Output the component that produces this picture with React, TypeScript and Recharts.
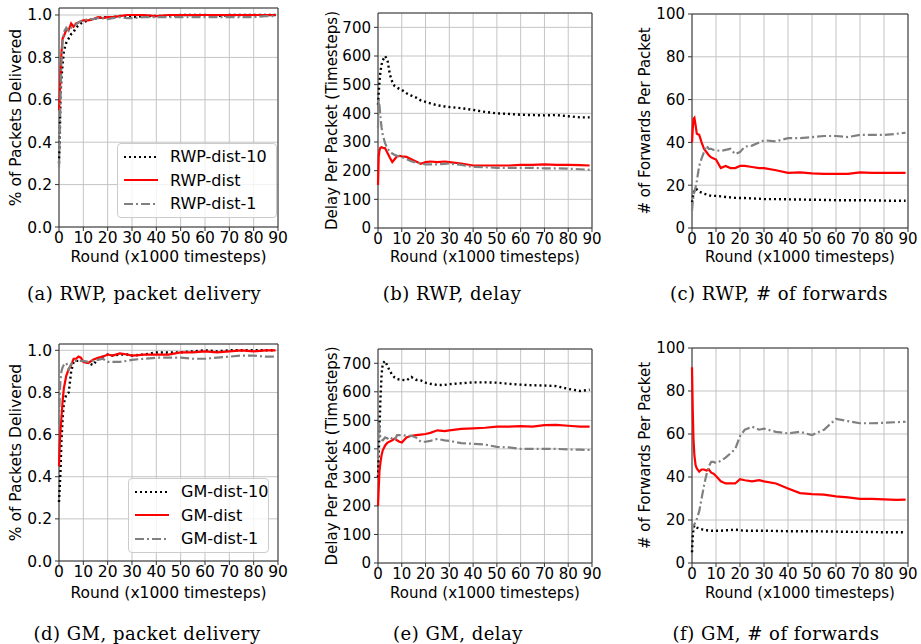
import { LineChart, Line, XAxis, YAxis, CartesianGrid, ReferenceArea, Legend } from "recharts"

// shared x positions (x1000 timesteps)
const rounds = [0, 0.3, 0.6, 1, 1.5, 2, 3, 4, 5, 6, 7, 8, 9, 10, 12, 14, 16, 18, 20, 22, 25, 28, 30, 35, 40, 45, 50, 55, 60, 65, 70, 75, 80, 85, 89]
const xTicks = [0, 10, 20, 30, 40, 50, 60, 70, 80, 90]
const ratioTicks = [0, 0.2, 0.4, 0.6, 0.8, 1.0]
const delayTicks = [0, 100, 200, 300, 400, 500, 600, 700]
const forwardTicks = [0, 20, 40, 60, 80, 100]

// RWP, packet delivery
const rwpDelivery10 = [0.30, 0.40, 0.62, 0.70, 0.77, 0.83, 0.87, 0.89, 0.91, 0.92, 0.94, 0.95, 0.96, 0.965, 0.975, 0.98, 0.985, 0.99, 0.99, 0.99, 0.995, 0.995, 0.99, 0.995, 0.995, 0.995, 1.0, 1.0, 1.0, 0.995, 1.0, 1.0, 1.0, 1.0, 1.0]
const rwpDelivery = [0.55, 0.62, 0.72, 0.82, 0.89, 0.9, 0.93, 0.93, 0.96, 0.945, 0.96, 0.965, 0.97, 0.975, 0.975, 0.98, 0.99, 0.985, 0.99, 0.99, 0.995, 1.0, 1.0, 1.0, 0.995, 1.0, 1.0, 1.0, 1.0, 1.0, 1.0, 1.0, 1.0, 1.0, 1.0]
const rwpDelivery1 = [0.28, 0.45, 0.6, 0.78, 0.88, 0.92, 0.94, 0.925, 0.94, 0.95, 0.955, 0.965, 0.97, 0.975, 0.98, 0.98, 0.985, 0.985, 0.98, 0.985, 0.99, 0.985, 0.985, 0.99, 0.99, 0.99, 0.99, 0.99, 0.99, 0.99, 0.99, 0.99, 0.99, 0.995, 0.995]

// RWP, delay
const rwpDelay10 = [430, 470, 510, 545, 570, 585, 600, 585, 535, 510, 495, 490, 485, 482, 470, 462, 455, 445, 440, 435, 428, 424, 422, 418, 412, 405, 400, 398, 395, 394, 393, 394, 390, 386, 386]
const rwpDelay = [150, 250, 270, 280, 282, 280, 278, 262, 245, 230, 240, 250, 252, 250, 248, 240, 232, 224, 230, 232, 230, 232, 230, 225, 218, 218, 218, 218, 220, 220, 222, 220, 220, 219, 218]
const rwpDelay1 = [350, 450, 430, 390, 350, 325, 295, 278, 266, 260, 255, 252, 250, 248, 240, 233, 228, 225, 222, 222, 222, 224, 225, 220, 213, 212, 210, 210, 210, 210, 208, 208, 207, 205, 203]

// RWP, # of forwards
const rwpForwards10 = [12, 14, 16, 17.5, 18.5, 18, 17, 16.5, 16, 15.7, 15.3, 15, 15, 15, 14.8, 14.5, 14.3, 14.1, 14, 14, 13.8, 13.7, 13.5, 13.5, 13.4, 13.3, 13.2, 13.1, 13, 13, 13, 12.9, 12.8, 12.7, 12.7]
const rwpForwards = [40, 46, 51, 51.5, 48, 44, 43.5, 40, 37, 35.5, 34, 33, 32.5, 32, 28, 29, 28, 28, 29, 29, 28.5, 28, 28, 27, 25.8, 26, 25.5, 25.3, 25.3, 25.3, 26, 25.8, 25.8, 25.8, 25.8]
const rwpForwards1 = [8, 12, 15, 17, 19, 22, 29, 32.5, 35.5, 38.5, 37, 37, 36.5, 36.3, 36, 36.5, 37, 34.5, 35.5, 38, 38.5, 40, 41, 40.5, 42, 42, 42.5, 43, 43, 42.5, 43.5, 43.5, 43.5, 44, 44.5]

// GM, packet delivery
const gmDelivery10 = [0.28, 0.35, 0.42, 0.57, 0.68, 0.75, 0.79, 0.8, 0.9, 0.945, 0.95, 0.95, 0.95, 0.95, 0.94, 0.93, 0.96, 0.97, 0.98, 0.975, 0.98, 0.98, 0.975, 0.98, 0.99, 0.99, 0.99, 0.995, 1.0, 0.995, 1.0, 1.0, 1.0, 1.0, 1.0]
const gmDelivery = [0.45, 0.55, 0.62, 0.68, 0.76, 0.82, 0.88, 0.91, 0.93, 0.96, 0.96, 0.97, 0.965, 0.945, 0.94, 0.955, 0.965, 0.97, 0.98, 0.975, 0.985, 0.98, 0.975, 0.98, 0.98, 0.98, 0.99, 0.99, 0.995, 0.99, 0.995, 1.0, 0.995, 1.0, 1.0]
const gmDelivery1 = [0.65, 0.78, 0.86, 0.9, 0.92, 0.93, 0.94, 0.91, 0.935, 0.945, 0.95, 0.95, 0.95, 0.95, 0.945, 0.95, 0.955, 0.96, 0.945, 0.945, 0.945, 0.95, 0.955, 0.96, 0.965, 0.965, 0.965, 0.96, 0.96, 0.965, 0.97, 0.975, 0.975, 0.97, 0.97]

// GM, delay
const gmDelay10 = [300, 380, 465, 570, 660, 700, 708, 690, 672, 660, 650, 645, 643, 642, 640, 652, 642, 640, 632, 628, 624, 624, 627, 630, 633, 633, 632, 628, 625, 623, 622, 620, 610, 603, 607]
const gmDelay = [200, 260, 320, 350, 378, 395, 412, 422, 426, 430, 436, 430, 425, 422, 440, 446, 448, 450, 452, 456, 465, 462, 465, 470, 472, 474, 478, 478, 480, 478, 483, 484, 481, 478, 478]
const gmDelay1 = [370, 490, 470, 440, 432, 430, 440, 436, 442, 435, 430, 448, 448, 448, 446, 446, 440, 425, 425, 428, 435, 430, 428, 420, 418, 415, 407, 405, 400, 400, 400, 400, 398, 397, 396]

// GM, # of forwards
const gmForwards10 = [5, 12, 16, 17.5, 17, 16.5, 16, 15.7, 15.3, 15.2, 15.1, 15, 15, 15, 15, 15.2, 15.3, 15.5, 15.2, 15, 15, 15, 15, 14.9, 14.8, 14.8, 14.8, 14.7, 14.6, 14.5, 14.5, 14.4, 14.3, 14.3, 14.3]
const gmForwards = [91, 72, 58, 50, 45.5, 44, 42.5, 43.5, 43.5, 43, 43.5, 42, 41.5, 40.5, 38, 37, 37, 37, 39, 38.5, 38, 38.5, 38, 37, 34.7, 32.5, 32, 31.8, 31, 30.5, 29.8, 29.8, 29.6, 29.4, 29.5]
const gmForwards1 = [15, 17, 17.5, 18, 19, 20.5, 24, 30, 36, 41, 45, 47, 47, 46.5, 47.5, 49, 51, 53, 59, 62, 63.4, 62, 62.5, 61, 60.3, 61, 59.5, 62, 67, 66, 65, 65, 65.2, 65.5, 65.7]

const rwpNames = ["RWP-dist-10", "RWP-dist", "RWP-dist-1"]
const gmNames = ["GM-dist-10", "GM-dist", "GM-dist-1"]

const lineStyles = [
  { stroke: "#000000", dash: "2 3" },
  { stroke: "#ff0000", dash: undefined },
  { stroke: "#808080", dash: "9 3 2 3" },
]

const FONT = "'DejaVu Sans', sans-serif"

function LegendBox({ names, width }: { names: string[]; width: number }) {
  return (
    <div
      style={{
        width,
        boxSizing: "border-box",
        border: "1px solid #cccccc",
        borderRadius: 4,
        background: "rgba(255,255,255,0.8)",
        padding: "1px 0",
        fontFamily: FONT,
        fontSize: 16,
        color: "#000",
      }}
    >
      {names.map((n, i) => (
        <div key={n} style={{ display: "flex", alignItems: "center", height: 23.5 }}>
          <svg width={40} height={10} style={{ flex: "none" }}>
            <line
              x1={6}
              x2={40}
              y1={5}
              y2={5}
              stroke={lineStyles[i].stroke}
              strokeWidth={2.2}
              strokeDasharray={lineStyles[i].dash}
            />
          </svg>
          <span style={{ marginLeft: 12, whiteSpace: "nowrap" }}>{n}</span>
        </div>
      ))}
    </div>
  )
}

type PanelProps = {
  left: number
  top: number
  plot: { x0: number; x1: number; y0: number; y1: number }
  series: number[][]
  names: string[]
  yDomain: [number, number]
  yTicks: number[]
  yFormat?: (v: number) => string
  yLabel: string
  yLabelX: number
  fs: number
  legend?: { left: number; top: number; width: number }
}

function Panel({ left, top, plot, series, names, yDomain, yTicks, yFormat, yLabel, yLabelX, fs, legend }: PanelProps) {
  const W = 306
  const H = 270
  const data = rounds.map((r, i) => ({ r, s0: series[0][i], s1: series[1][i], s2: series[2][i] }))
  const tick = { fontSize: fs, fill: "#000", fontFamily: FONT }
  return (
    <div style={{ position: "absolute", left, top }}>
      <LineChart
        width={W}
        height={H}
        data={data}
        margin={{ top: plot.y0 - top, right: left + W - plot.x1, left: 0, bottom: 0 }}
      >
        <CartesianGrid stroke="#c4c4c4" strokeWidth={1} />
        <XAxis
          dataKey="r"
          type="number"
          domain={[0, 90]}
          ticks={xTicks}
          interval={0}
          height={top + H - plot.y1}
          tick={tick}
          tickSize={4}
          tickMargin={1}
          axisLine={false}
          tickLine={{ stroke: "#333" }}
          label={{ value: "Round (x1000 timesteps)", position: "insideBottom", offset: 8, style: { fontSize: fs, fill: "#000", fontFamily: FONT } }}
        />
        <YAxis
          type="number"
          domain={yDomain}
          ticks={yTicks}
          interval={0}
          width={plot.x0 - left}
          tick={tick}
          tickFormatter={yFormat}
          tickSize={4}
          tickMargin={3}
          axisLine={false}
          tickLine={{ stroke: "#333" }}
          allowDataOverflow
          label={{
            value: yLabel,
            angle: -90,
            position: "insideLeft",
            offset: yLabelX,
            style: { textAnchor: "middle", fontSize: fs, fill: "#000", fontFamily: FONT },
          }}
        />
        <ReferenceArea x1={0} x2={90} y1={yDomain[0]} y2={yDomain[1]} fill="none" stroke="#333" strokeWidth={1} />
        {[0, 1, 2].map((k) => (
          <Line
            key={k}
            dataKey={`s${k}`}
            name={names[k]}
            type="linear"
            dot={false}
            stroke={lineStyles[k].stroke}
            strokeWidth={k === 0 ? 2.4 : 2.2}
            strokeDasharray={lineStyles[k].dash}
            isAnimationActive={false}
          />
        ))}
        {legend && (
          <Legend
            layout="vertical"
            align="center"
            verticalAlign="middle"
            wrapperStyle={{ left: legend.left, top: legend.top, width: legend.width }}
            content={() => <LegendBox names={names} width={legend.width} />}
          />
        )}
      </LineChart>
    </div>
  )
}

function Caption({ text, cx, cy }: { text: string; cx: number; cy: number }) {
  return (
    <div
      style={{
        position: "absolute",
        left: cx,
        top: cy,
        transform: "translate(-50%, -50%)",
        fontFamily: "'DejaVu Serif', serif",
        fontSize: 18,
        letterSpacing: 0.5,
        whiteSpace: "nowrap",
        color: "#000",
      }}
    >
      {text}
    </div>
  )
}

const fmt1 = (v: number) => v.toFixed(1)

export default function App() {
  return (
    <div style={{ position: "absolute", left: 0, top: 0, width: 921, height: 644, background: "#fff", overflow: "hidden" }}>
      <Panel
        left={0}
        top={0}
        plot={{ x0: 59, x1: 278, y0: 8, y1: 227 }}
        series={[rwpDelivery10, rwpDelivery, rwpDelivery1]}
        names={rwpNames}
        yDomain={[0, 1.033]}
        yTicks={ratioTicks}
        yFormat={fmt1}
        yLabel="% of Packets Delivered"
        yLabelX={15}
        fs={15.5}
        legend={{ left: 117, top: 143, width: 160 }}
      />
      <Panel
        left={305}
        top={0}
        plot={{ x0: 378, x1: 592, y0: 13, y1: 228 }}
        series={[rwpDelay10, rwpDelay, rwpDelay1]}
        names={rwpNames}
        yDomain={[0, 750]}
        yTicks={delayTicks}
        yLabel="Delay Per Packet (Timesteps)"
        yLabelX={27}
        fs={15}
      />
      <Panel
        left={615}
        top={0}
        plot={{ x0: 692, x1: 908, y0: 14, y1: 228 }}
        series={[rwpForwards10, rwpForwards, rwpForwards1]}
        names={rwpNames}
        yDomain={[0, 100]}
        yTicks={forwardTicks}
        yLabel="# of Forwards Per Packet"
        yLabelX={30}
        fs={15}
      />
      <Panel
        left={0}
        top={336}
        plot={{ x0: 59, x1: 278, y0: 344, y1: 561 }}
        series={[gmDelivery10, gmDelivery, gmDelivery1]}
        names={gmNames}
        yDomain={[0, 1.03]}
        yTicks={ratioTicks}
        yFormat={fmt1}
        yLabel="% of Packets Delivered"
        yLabelX={15}
        fs={15.5}
        legend={{ left: 128, top: 142, width: 141 }}
      />
      <Panel
        left={305}
        top={336}
        plot={{ x0: 378, x1: 592, y0: 349, y1: 563 }}
        series={[gmDelay10, gmDelay, gmDelay1]}
        names={gmNames}
        yDomain={[0, 750]}
        yTicks={delayTicks}
        yLabel="Delay Per Packet (Timesteps)"
        yLabelX={27}
        fs={15}
      />
      <Panel
        left={615}
        top={336}
        plot={{ x0: 692, x1: 908, y0: 348, y1: 563 }}
        series={[gmForwards10, gmForwards, gmForwards1]}
        names={gmNames}
        yDomain={[0, 100]}
        yTicks={forwardTicks}
        yLabel="# of Forwards Per Packet"
        yLabelX={30}
        fs={15}
      />
      <Caption text="(a) RWP, packet delivery" cx={144} cy={293} />
      <Caption text="(b) RWP, delay" cx={452} cy={293} />
      <Caption text="(c) RWP, # of forwards" cx={779} cy={293} />
      <Caption text="(d) GM, packet delivery" cx={147} cy={633} />
      <Caption text="(e) GM, delay" cx={458} cy={633} />
      <Caption text="(f) GM, # of forwards" cx={776} cy={633} />
    </div>
  )
}
